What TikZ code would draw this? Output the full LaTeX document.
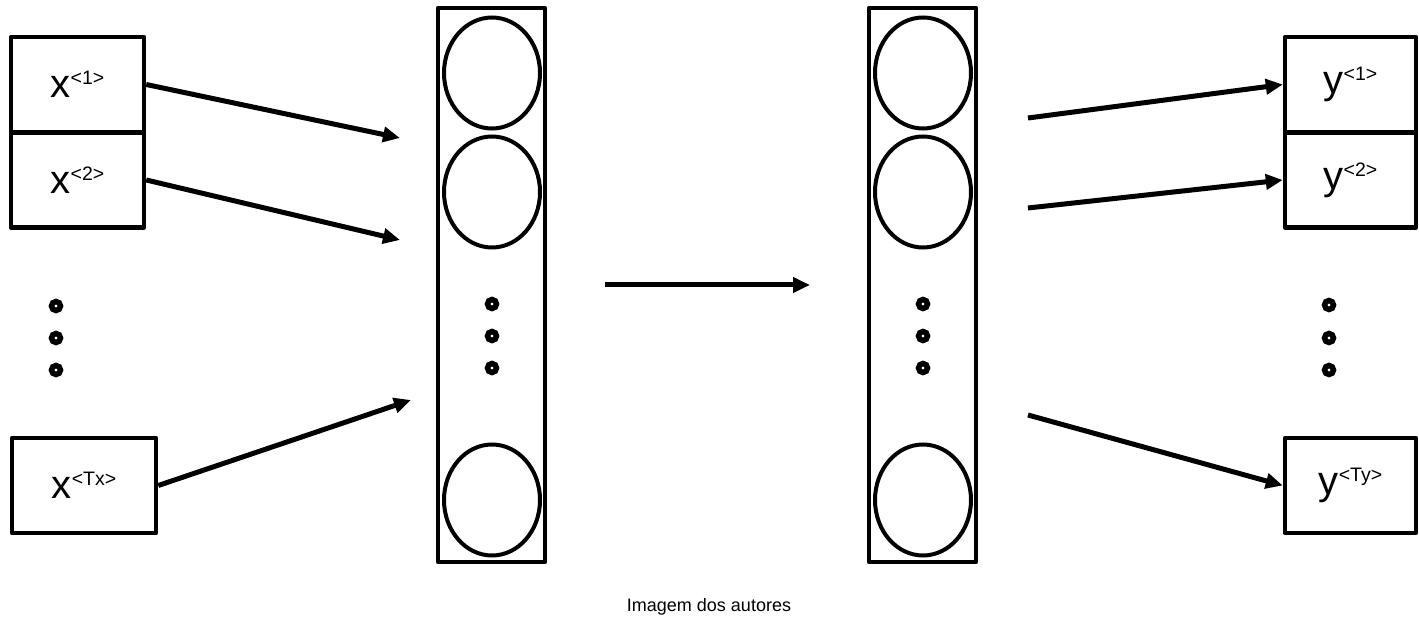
\documentclass[tikz,border=0pt]{standalone}
\usepackage{fontspec}
\setmainfont{Liberation Sans}
\usetikzlibrary{arrows.meta,shapes.geometric}
\newcommand\seqlbl[2]{{\fontsize{40}{40}\selectfont #1}\raisebox{13pt}{\fontsize{19.5}{19.5}\selectfont <#2>}}
\tikzset{
  seqbox/.style={draw, line width=4.5pt, line join=round, inner sep=0pt, minimum width=#1, minimum height=95pt},
  layerbox/.style={draw, line width=4.5pt, line join=round, inner sep=0pt, minimum width=107pt, minimum height=554pt},
  unit/.style={draw, ellipse, line width=4pt, inner sep=0pt, minimum width=96pt, minimum height=111pt},
  dotring/.style={draw, circle, line width=5.5pt, inner sep=0pt, minimum size=9pt},
  conn/.style={line width=5pt, -{Triangle[length=17pt,width=15pt]}},
}
\begin{document}
\begin{tikzpicture}[x=1pt,y=-1pt]
\useasboundingbox (0,0) rectangle (1419,628);
% input boxes
\node[seqbox=133pt] (x1) at (77.5,84.5) {\seqlbl{x}{1}};
\node[seqbox=133pt] (x2) at (77.5,180) {\seqlbl{x}{2}};
\node[seqbox=144pt] (xT) at (84,485.5) {\seqlbl{x}{Tx}};
\foreach \yy [count=\i] in {306,338,370} \node[dotring] (xd\i) at (56,\yy) {};
% output boxes
\node[seqbox=131pt] (y1) at (1350.5,84.5) {\seqlbl{y}{1}};
\node[seqbox=131pt] (y2) at (1350.5,180) {\seqlbl{y}{2}};
\node[seqbox=131pt] (yT) at (1350.5,485.5) {\seqlbl{y}{Ty}};
\foreach \yy [count=\i] in {305,338,370} \node[dotring] (yd\i) at (1329,\yy) {};
% left layer
\node[layerbox] (L) at (491.5,285) {};
\node[unit] (L1) at (492,73) {};
\node[unit] (L2) at (492,192) {};
\node[unit] (L3) at (492,500) {};
\foreach \yy [count=\i] in {304,336,368} \node[dotring] (Ld\i) at (492,\yy) {};
% right layer
\node[layerbox] (R) at (922.5,285) {};
\node[unit] (R1) at (923,73) {};
\node[unit] (R2) at (923,192) {};
\node[unit] (R3) at (923,500) {};
\foreach \yy [count=\i] in {304,336,368} \node[dotring] (Rd\i) at (923,\yy) {};
% free connector ends
\coordinate (a1) at (400,138);
\coordinate (a2) at (400,240);
\coordinate (aT) at (411,400);
\coordinate (m1) at (605,285);
\coordinate (m2) at (810,285);
\coordinate (b1) at (1028,118);
\coordinate (b2) at (1028,208);
\coordinate (bT) at (1028,415);
% connectors
\draw[conn] (x1.east) -- (a1);
\draw[conn] (x2.east) -- (a2);
\draw[conn] (xT.east) -- (aT);
\draw[conn] (m1) -- (m2);
\draw[conn] (b1) -- (y1.west);
\draw[conn] (b2) -- (y2.west);
\draw[conn] (bT) -- (yT.west);
% caption
\node[font=\fontsize{18}{18}\selectfont] (cap) at (709,607) {Imagem dos autores};
\end{tikzpicture}
\end{document}
